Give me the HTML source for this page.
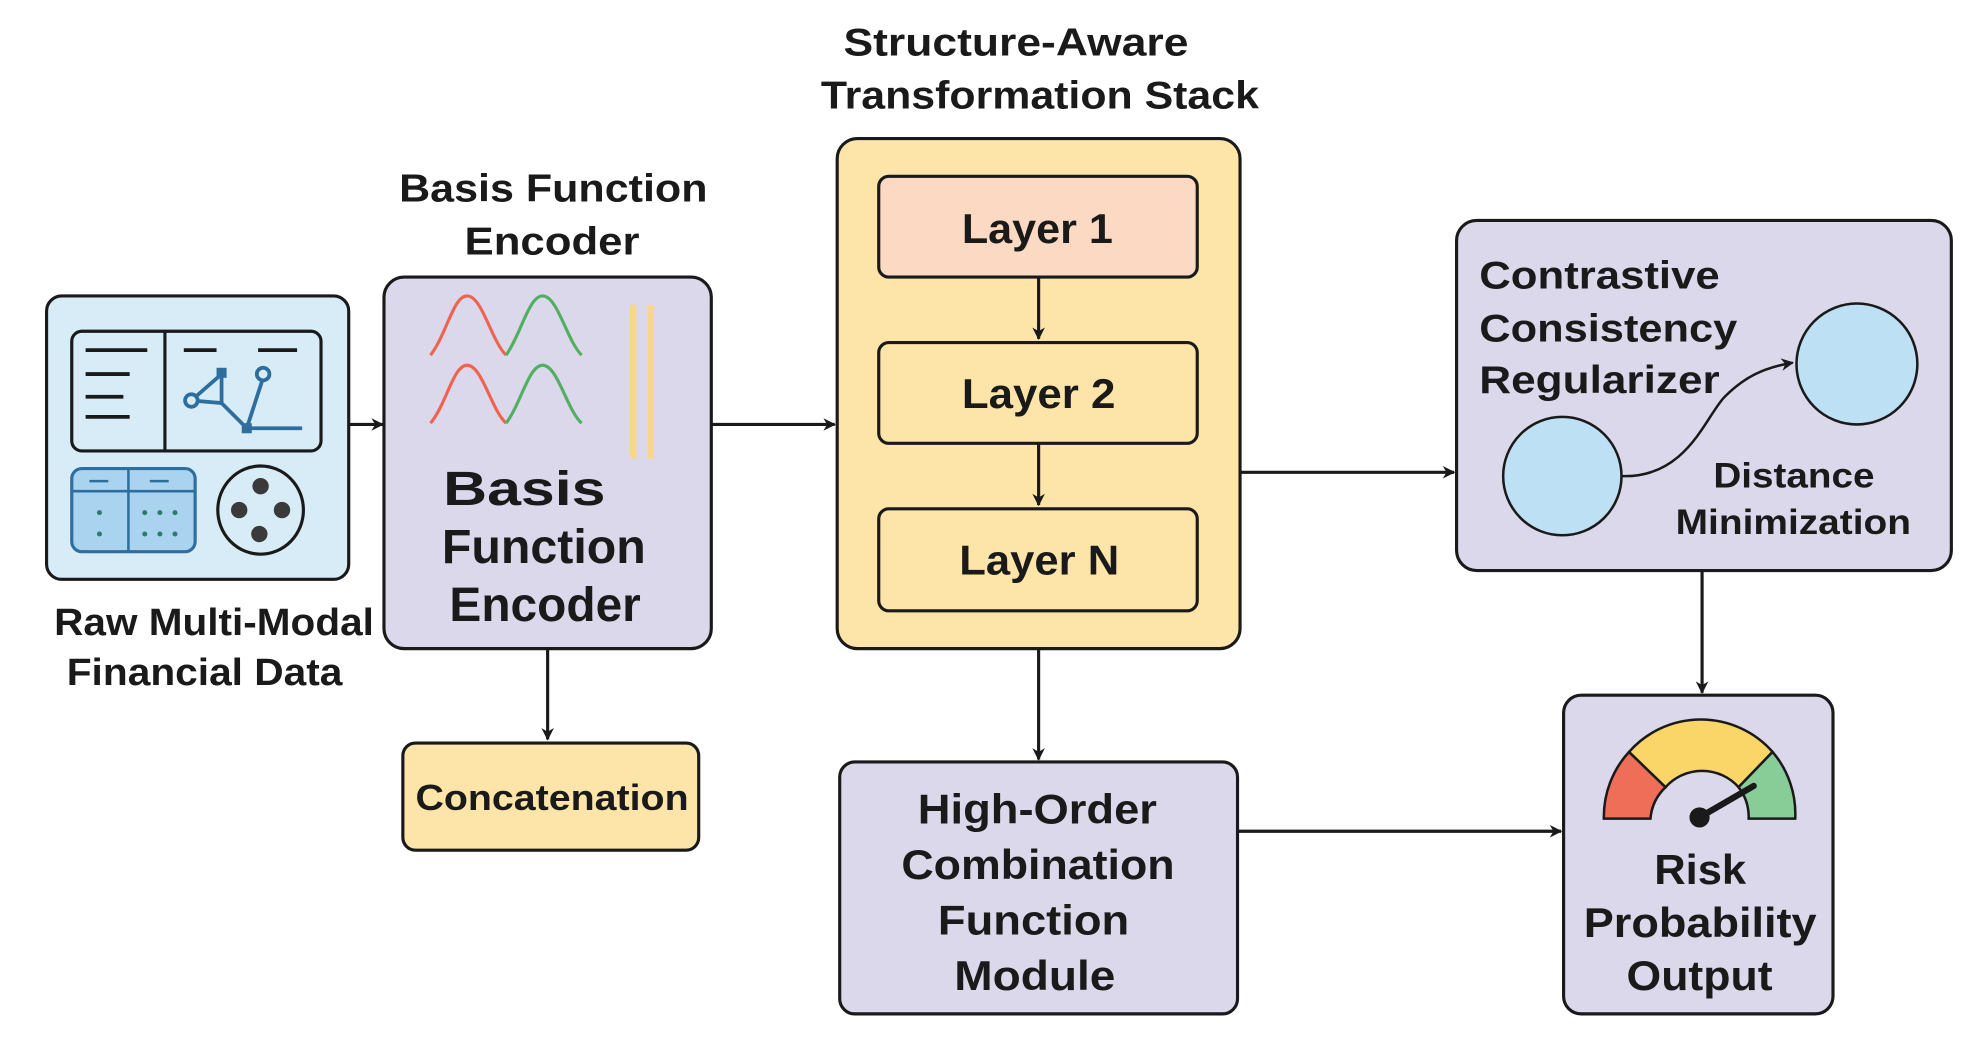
<!DOCTYPE html>
<html><head><meta charset="utf-8"><style>
html,body{margin:0;padding:0;background:#fff;}
svg{display:block;}
text{font-family:"Liberation Sans",sans-serif;font-weight:bold;fill:#1a1a1a;}
</style></head><body>
<svg width="1974" height="1063" viewBox="0 0 1568 844" preserveAspectRatio="none" xmlns="http://www.w3.org/2000/svg">
<defs>
<marker id="ah" markerWidth="10" markerHeight="10" refX="9" refY="5" orient="auto" markerUnits="userSpaceOnUse">
<path d="M0,0 L10,5 L0,10 L3,5 z" fill="#1a1a1a"/></marker>
</defs>
<g stroke="#1a1a1a" stroke-width="2.5" fill="none">
<line x1="277" y1="337" x2="304" y2="337" marker-end="url(#ah)"/>
<line x1="565" y1="337" x2="663" y2="337" marker-end="url(#ah)"/>
<line x1="985" y1="375" x2="1155" y2="375" marker-end="url(#ah)"/>
<line x1="1352" y1="453" x2="1352" y2="550" marker-end="url(#ah)"/>
<line x1="435" y1="515" x2="435" y2="587" marker-end="url(#ah)"/>
<line x1="825" y1="515" x2="825" y2="603" marker-end="url(#ah)"/>
<line x1="983" y1="660" x2="1240" y2="660" marker-end="url(#ah)"/>
</g>

<rect x="37" y="235" width="240" height="225" rx="12" fill="#d8ecf8" stroke="#1a1a1a" stroke-width="2.5"/>
<rect x="57" y="263" width="198" height="95" rx="8" fill="#d8ecf8" stroke="#1a1a1a" stroke-width="2.5"/>
<line x1="131" y1="263" x2="131" y2="358" stroke="#1a1a1a" stroke-width="2.5"/>
<g stroke="#1a1a1a" stroke-width="3">
<line x1="68" y1="278" x2="117" y2="278"/><line x1="68" y1="297" x2="103" y2="297"/>
<line x1="68" y1="315" x2="98" y2="315"/><line x1="68" y1="331" x2="103" y2="331"/>
<line x1="146" y1="278" x2="172" y2="278"/><line x1="205" y1="278" x2="236" y2="278"/>
</g>
<g stroke="#2e6e9e" stroke-width="3" fill="none">
<polyline points="152,318 176,297 176,320 152,318"/>
<line x1="176" y1="320" x2="196" y2="340"/><line x1="196" y1="340" x2="209" y2="300"/>
<line x1="196" y1="340" x2="240" y2="340"/>
<circle cx="152" cy="318" r="5" fill="#d8ecf8"/><circle cx="209" cy="297" r="5" fill="#d8ecf8"/>
</g>
<rect x="172" y="292" width="8" height="8" fill="#2e6e9e"/><rect x="192" y="336" width="8" height="8" fill="#2e6e9e"/>
<rect x="57" y="372" width="98" height="66" rx="8" fill="#a9d3ee" stroke="#2e6e9e" stroke-width="2.5"/>
<line x1="57" y1="390" x2="155" y2="390" stroke="#2e6e9e" stroke-width="2"/>
<line x1="102" y1="372" x2="102" y2="438" stroke="#2e6e9e" stroke-width="2"/>
<line x1="71" y1="382" x2="86" y2="382" stroke="#2e6e9e" stroke-width="2"/>
<line x1="119" y1="382" x2="134" y2="382" stroke="#2e6e9e" stroke-width="2"/>
<g fill="#2e7a6e"><circle cx="79" cy="407" r="2"/><circle cx="79" cy="424" r="2"/>
<circle cx="115" cy="407" r="2"/><circle cx="127" cy="407" r="2"/><circle cx="139" cy="407" r="2"/>
<circle cx="115" cy="424" r="2"/><circle cx="127" cy="424" r="2"/><circle cx="139" cy="424" r="2"/></g>
<ellipse cx="207" cy="405" rx="34" ry="35" fill="none" stroke="#1a1a1a" stroke-width="2.5"/>
<g fill="#3a3a3a"><circle cx="207" cy="386" r="6.5"/><circle cx="190" cy="405" r="6.5"/><circle cx="224" cy="405" r="6.5"/><circle cx="206" cy="424" r="6.5"/></g>
<text x="43" y="504" font-size="30" textLength="254" lengthAdjust="spacingAndGlyphs">Raw Multi-Modal</text>
<text x="53" y="544" font-size="30" textLength="219" lengthAdjust="spacingAndGlyphs">Financial Data</text>

<text x="317" y="160" font-size="31" textLength="245" lengthAdjust="spacingAndGlyphs">Basis Function</text>
<text x="369" y="202" font-size="31" textLength="139" lengthAdjust="spacingAndGlyphs">Encoder</text>
<rect x="305" y="220" width="260" height="295" rx="16" fill="#dcd8ec" stroke="#1a1a1a" stroke-width="2.5"/>
<g fill="none" stroke-width="2.5">
<path d="M342,282 C355,265 360,235 371,235 C383,235 390,270 402,282" stroke="#ee6450"/>
<path d="M402,282 C414,265 420,235 431,235 C443,235 450,270 462,282" stroke="#50b060"/>
<path d="M342,336 C355,320 360,290 371,290 C383,290 390,325 402,336" stroke="#ee6450"/>
<path d="M402,336 C414,320 420,290 431,290 C443,290 450,325 462,336" stroke="#50b060"/>
</g>
<line x1="503" y1="242" x2="503" y2="364" stroke="#f8d888" stroke-width="5"/>
<line x1="517" y1="242" x2="517" y2="364" stroke="#f8d888" stroke-width="5"/>
<text x="352" y="401" font-size="38" textLength="129" lengthAdjust="spacingAndGlyphs">Basis</text>
<text x="351" y="447" font-size="38" textLength="162" lengthAdjust="spacingAndGlyphs">Function</text>
<text x="357" y="493" font-size="38" textLength="152" lengthAdjust="spacingAndGlyphs">Encoder</text>

<rect x="320" y="590" width="235" height="85" rx="10" fill="#fde4a8" stroke="#1a1a1a" stroke-width="2.5"/>
<text x="330" y="643" font-size="29" textLength="217" lengthAdjust="spacingAndGlyphs">Concatenation</text>

<text x="670" y="44" font-size="31" textLength="274" lengthAdjust="spacingAndGlyphs">Structure-Aware</text>
<text x="652" y="86" font-size="31" textLength="348" lengthAdjust="spacingAndGlyphs">Transformation Stack</text>
<rect x="665" y="110" width="320" height="405" rx="16" fill="#fde4a8" stroke="#1a1a1a" stroke-width="2.5"/>
<rect x="698" y="140" width="253" height="80" rx="8" fill="#fbd9c2" stroke="#1a1a1a" stroke-width="2.5"/>
<rect x="698" y="272" width="253" height="80" rx="8" fill="#fde4a8" stroke="#1a1a1a" stroke-width="2.5"/>
<rect x="698" y="404" width="253" height="81" rx="8" fill="#fde4a8" stroke="#1a1a1a" stroke-width="2.5"/>
<g stroke="#1a1a1a" stroke-width="2.5"><line x1="825" y1="220" x2="825" y2="269" marker-end="url(#ah)"/>
<line x1="825" y1="352" x2="825" y2="401" marker-end="url(#ah)"/></g>
<text x="764" y="193" font-size="33" textLength="120" lengthAdjust="spacingAndGlyphs">Layer 1</text>
<text x="764" y="324" font-size="33" textLength="122" lengthAdjust="spacingAndGlyphs">Layer 2</text>
<text x="762" y="456" font-size="33" textLength="127" lengthAdjust="spacingAndGlyphs">Layer N</text>

<rect x="667" y="605" width="316" height="200" rx="12" fill="#dcd8ec" stroke="#1a1a1a" stroke-width="2.5"/>
<text x="729" y="654" font-size="33" textLength="190" lengthAdjust="spacingAndGlyphs">High-Order</text>
<text x="716" y="698" font-size="33" textLength="217" lengthAdjust="spacingAndGlyphs">Combination</text>
<text x="745" y="742" font-size="33" textLength="152" lengthAdjust="spacingAndGlyphs">Function</text>
<text x="758" y="786" font-size="33" textLength="128" lengthAdjust="spacingAndGlyphs">Module</text>

<rect x="1157" y="175" width="393" height="278" rx="16" fill="#dcd8ec" stroke="#1a1a1a" stroke-width="2.5"/>
<text x="1175" y="229" font-size="31" textLength="191" lengthAdjust="spacingAndGlyphs">Contrastive</text>
<text x="1175" y="271" font-size="31" textLength="205" lengthAdjust="spacingAndGlyphs">Consistency</text>
<text x="1175" y="312" font-size="31" textLength="191" lengthAdjust="spacingAndGlyphs">Regularizer</text>
<circle cx="1241" cy="378" r="47" fill="#bee0f4" stroke="#1a1a1a" stroke-width="2"/>
<circle cx="1475" cy="289" r="48" fill="#bee0f4" stroke="#1a1a1a" stroke-width="2"/>
<path d="M1288,378 C1340,380 1355,330 1370,315 C1385,300 1400,292 1424,288" fill="none" stroke="#1a1a1a" stroke-width="2" marker-end="url(#ah)"/>
<text x="1361" y="387" font-size="28" textLength="128" lengthAdjust="spacingAndGlyphs">Distance</text>
<text x="1331" y="424" font-size="28" textLength="187" lengthAdjust="spacingAndGlyphs">Minimization</text>

<rect x="1242" y="552" width="214" height="253" rx="14" fill="#dcd8ec" stroke="#1a1a1a" stroke-width="2.5"/>
<g stroke="#1a1a1a" stroke-width="2">
<path d="M1274,650 A76,76 0 0 1 1294,597 L1323,625 A39,39 0 0 0 1311,650 Z" fill="#ee6e58"/>
<path d="M1294,597 A76,76 0 0 1 1408,597 L1381,625 A39,39 0 0 0 1323,625 Z" fill="#fad668"/>
<path d="M1408,597 A76,76 0 0 1 1426,650 L1389,650 A39,39 0 0 0 1381,625 Z" fill="#88cc98"/>
</g>
<line x1="1350" y1="649" x2="1393" y2="624" stroke="#1a1a1a" stroke-width="5" stroke-linecap="round"/>
<circle cx="1350" cy="649" r="8" fill="#1a1a1a"/>
<text x="1314" y="702" font-size="33" textLength="73" lengthAdjust="spacingAndGlyphs">Risk</text>
<text x="1258" y="744" font-size="33" textLength="185" lengthAdjust="spacingAndGlyphs">Probability</text>
<text x="1292" y="786" font-size="33" textLength="116" lengthAdjust="spacingAndGlyphs">Output</text>
</svg>
</body></html>
